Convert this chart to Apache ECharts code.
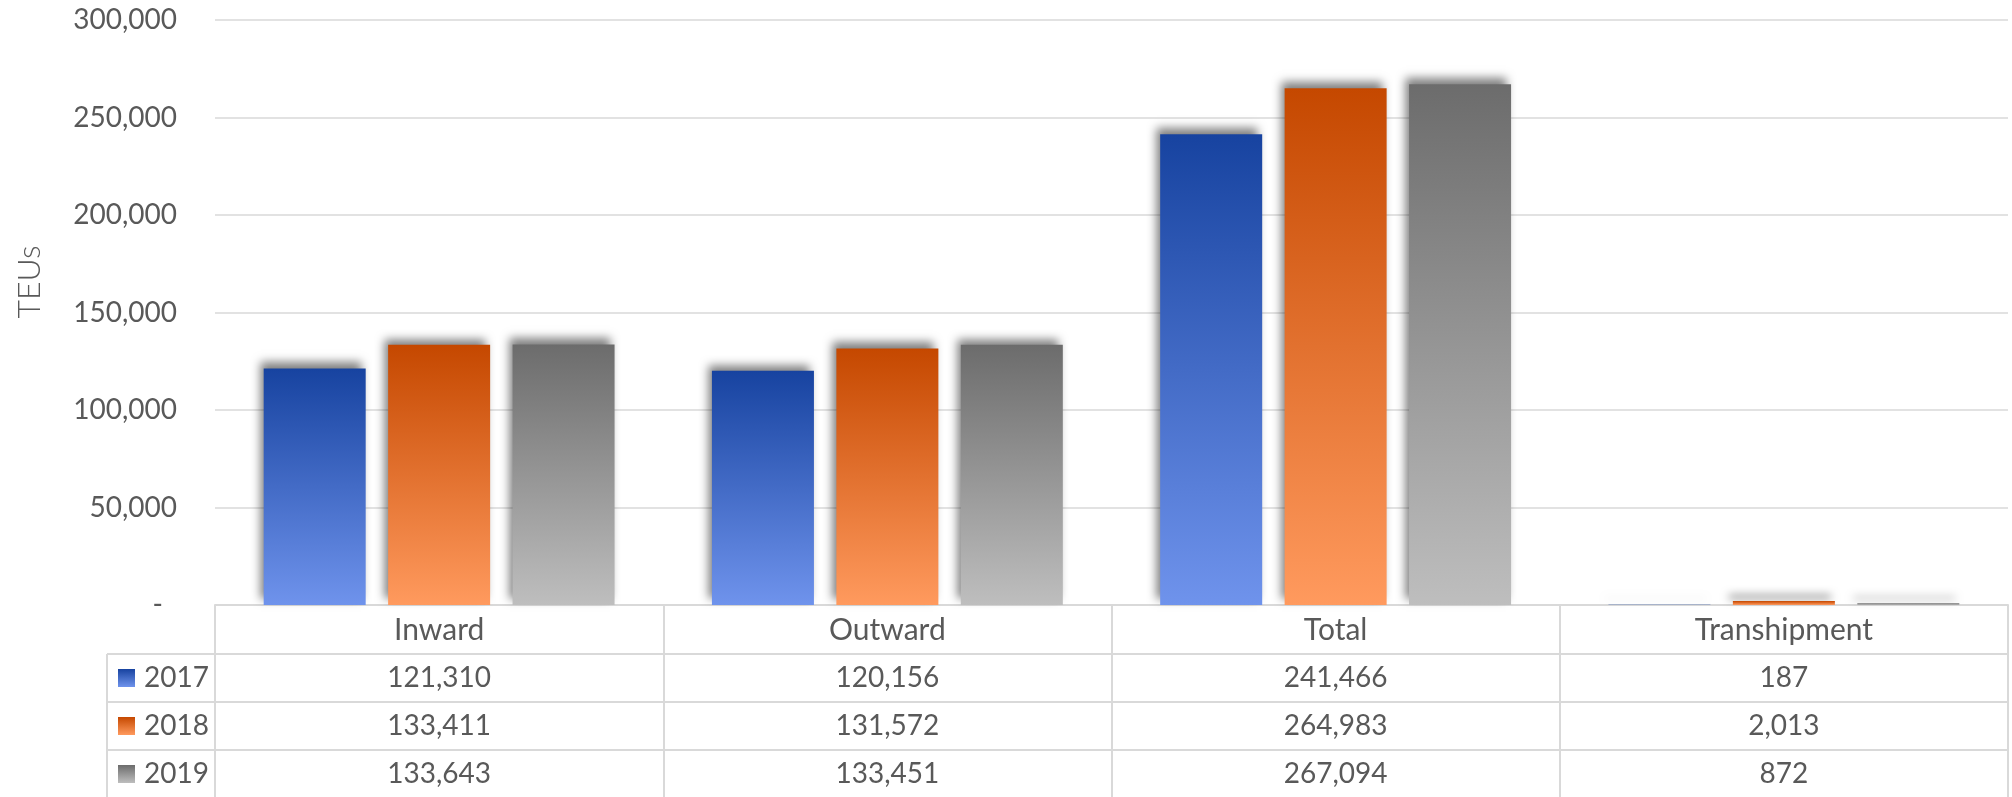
<!DOCTYPE html>
<html><head><meta charset="utf-8">
<script src="https://cdn.jsdelivr.net/npm/echarts@6/dist/echarts.min.js"></script>
<style>html,body{margin:0;padding:0;background:#fff}#c{width:2012px;height:797px}</style>
</head><body><div id="c"></div>
<script>
// ---- data ----
const categories = ['Inward', 'Outward', 'Total', 'Transhipment'];
const years = ['2017', '2018', '2019'];
const values2017 = [121310, 120156, 241466, 187];
const values2018 = [133411, 131572, 264983, 2013];
const values2019 = [133643, 133451, 267094, 872];
const yMin = 0, yMax = 300000, yStep = 50000;
const yTitle = 'TEUs';

// ---- styling / layout ----
const FONT = 'Lato, "Open Sans", "Noto Sans", sans-serif';
const TXT = '#595959';
const LINE = '#d9d9d9';
const W = 2012, H = 797;
const gridLeft = 215, gridRight = 4, gridTop = 20, gridBottom = 192;
const rowOffsets = [0, 49, 97, 145];      // table row lines below plot bottom
const legendColLeft = 107;

const grads = [
  ['#1743A0', '#6F93EC'],
  ['#C54800', '#FF9A5E'],
  ['#6C6C6C', '#BEBEBE']
];
function grad(c) {
  return new echarts.graphic.LinearGradient(0, 0, 0, 1, [
    { offset: 0, color: c[0] }, { offset: 1, color: c[1] }
  ]);
}
const fmt = v => Number(v).toLocaleString('en-US');
const seriesValues = [values2017, values2018, values2019];

const chart = echarts.init(document.getElementById('c'), null, { renderer: 'canvas' });
const plotBottom = H - gridBottom;

const xAxes = [{
  type: 'category', data: categories, position: 'bottom', offset: rowOffsets[0],
  axisLine: { show: true, lineStyle: { color: LINE, width: 2 } },
  axisTick: { show: true, length: gridBottom, interval: 0, lineStyle: { color: LINE, width: 2 } },
  axisLabel: { margin: 25, verticalAlign: 'middle', fontSize: 30, color: TXT, fontFamily: FONT, interval: 0 },
  splitLine: { show: false }
}];
seriesValues.forEach((vals, i) => {
  xAxes.push({
    type: 'category', data: vals.map(fmt), position: 'bottom', offset: rowOffsets[i + 1],
    axisLine: { show: true, lineStyle: { color: LINE, width: 2 } },
    axisTick: { show: false },
    axisLabel: { margin: 24, verticalAlign: 'middle', fontSize: 28, color: TXT, fontFamily: FONT, interval: 0 },
    splitLine: { show: false }
  });
});

const graphics = [
  {
    type: 'text', x: 30, y: 282, rotation: Math.PI / 2,
    style: { text: yTitle, align: 'center', verticalAlign: 'middle', fontSize: 32, fontWeight: 300, fill: TXT, fontFamily: FONT }
  },
  {
    type: 'line', shape: { x1: legendColLeft, y1: plotBottom + rowOffsets[1], x2: legendColLeft, y2: H },
    style: { stroke: LINE, lineWidth: 2 }
  }
];
for (let i = 1; i < rowOffsets.length; i++) {
  graphics.push({
    type: 'line', shape: { x1: legendColLeft, y1: plotBottom + rowOffsets[i], x2: gridLeft, y2: plotBottom + rowOffsets[i] },
    style: { stroke: LINE, lineWidth: 2 }
  });
}

chart.setOption({
  animation: false,
  backgroundColor: '#fff',
  textStyle: { fontFamily: FONT },
  grid: { left: gridLeft, right: gridRight, top: gridTop, bottom: gridBottom, containLabel: false },
  legend: {
    orient: 'vertical', left: 118, top: plotBottom + rowOffsets[1] + 9, padding: 0,
    itemGap: 18, itemWidth: 17, itemHeight: 18, icon: 'rect', selectedMode: false,
    itemStyle: { shadowBlur: 0, shadowOffsetX: 0, shadowOffsetY: 0, shadowColor: 'transparent' },
    textStyle: { fontSize: 28, color: TXT, fontFamily: FONT, lineHeight: 30, padding: [0, 0, 0, 4] },
    data: years
  },
  xAxis: xAxes,
  yAxis: {
    type: 'value', min: yMin, max: yMax, interval: yStep,
    axisLine: { show: false }, axisTick: { show: false },
    splitLine: { lineStyle: { color: LINE, width: 1.5 } },
    axisLabel: {
      margin: 38, fontSize: 28, color: TXT, fontFamily: FONT,
      formatter: v => v === 0 ? '{z|-}' : fmt(v),
      rich: { z: { padding: [0, 14, 0, 0], fontSize: 28, color: TXT, fontFamily: FONT } }
    }
  },
  series: years.map((y, i) => ({
    name: y, type: 'bar', xAxisIndex: 0, data: seriesValues[i],
    barWidth: 102, barGap: '22%',
    itemStyle: {
      color: grad(grads[i]),
      shadowColor: 'rgba(0,0,0,0.5)', shadowBlur: 9, shadowOffsetX: -4, shadowOffsetY: -6
    }
  })),
  graphic: graphics
});
</script></body></html>
